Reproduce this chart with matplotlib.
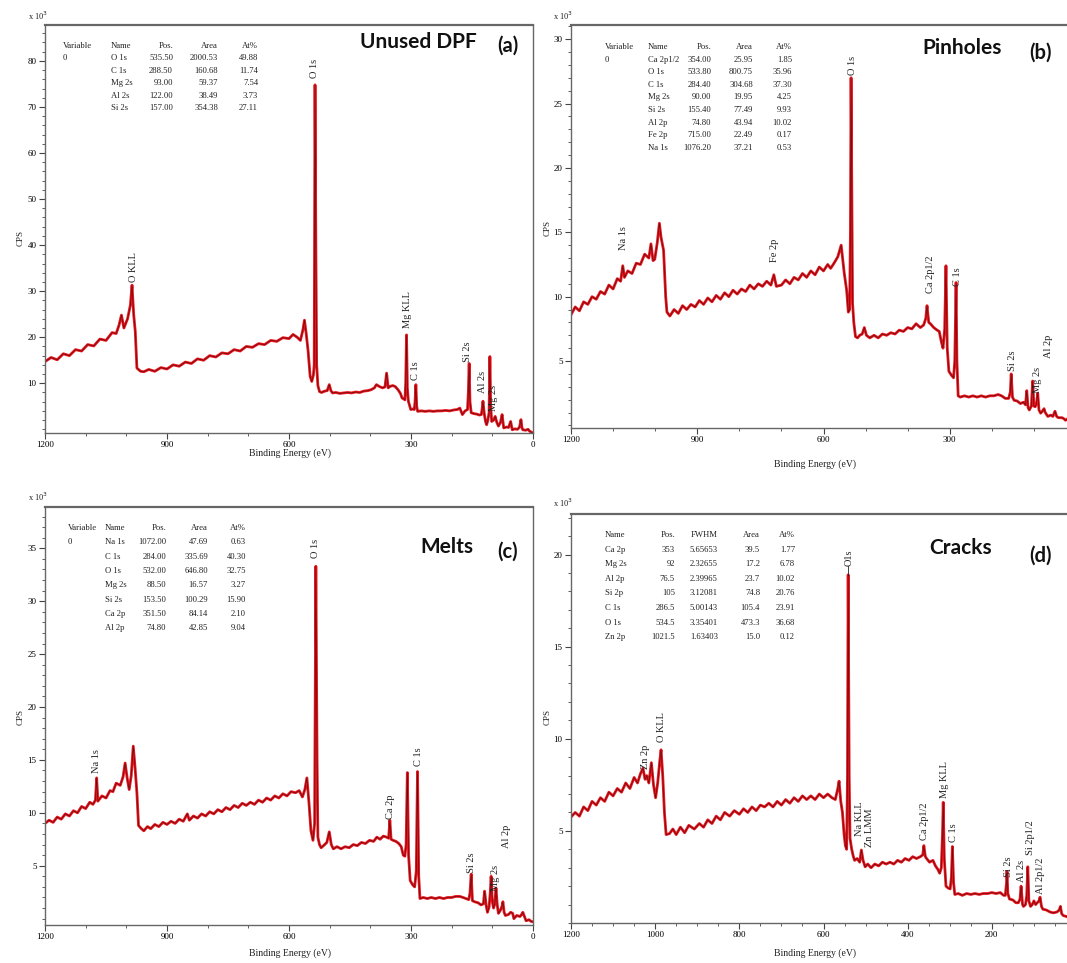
import matplotlib
matplotlib.use("Agg")
import matplotlib.pyplot as plt
from matplotlib.ticker import MultipleLocator

W, H = 1067, 963
SERIF = "Liberation Serif"
TITLE_FONT = "Lato"

# ---------------- panel (a) : Unused DPF ----------------
be_a = [1200, 1185, 1170, 1155, 1140, 1125, 1110, 1095, 1080, 1065, 1050, 1035, 1025, 1018,
        1012, 1006, 997, 990, 986, 982, 978, 974, 965, 957, 945, 930, 915, 900, 885, 870,
        855, 840, 825, 810, 795, 780, 765, 750, 735, 720, 705, 690, 675, 660, 645, 630,
        615, 600, 590, 580, 572, 566, 562, 558, 553, 548, 544, 540, 538, 536, 534, 532,
        529, 525, 520, 512, 506, 501, 497, 493, 485, 475, 466, 456, 446, 436, 426, 416,
        406, 398, 390, 385, 378, 370, 364, 360, 356, 352, 345, 339, 332, 326, 322, 318,
        315, 313, 311, 309, 306.5, 303, 300.6, 296, 292, 290, 288, 286, 283.7, 275, 265,
        255, 245, 235, 225, 215, 205, 195, 186, 180, 173.6, 167, 161, 159, 157, 155, 152,
        145, 138, 132, 127, 125, 123, 120, 117, 114, 111, 108, 106, 104, 101.6, 97, 93,
        89, 85, 80, 76, 72, 65, 60, 55, 51, 45, 38, 33, 29.6, 27, 25, 18, 12, 8.5, 4, 0]
cps_a = [14.7, 15.6, 15.1, 16.4, 16.0, 17.3, 17.0, 18.4, 18.1, 19.6, 19.3, 21.0, 20.8, 22.6,
         24.8, 22.0, 24.0, 27.0, 31.3, 25.0, 21.2, 13.3, 12.6, 12.5, 13.0, 12.6, 13.4, 13.1,
         14.0, 13.7, 14.6, 14.3, 15.3, 15.0, 16.0, 15.7, 16.6, 16.4, 17.3, 17.0, 18.0, 17.8,
         18.6, 18.4, 19.3, 19.1, 19.9, 19.7, 20.6, 20.0, 19.3, 21.5, 23.7, 21.0, 17.0, 11.5,
         10.4, 11.8, 14.0, 74.8, 40.0, 14.0, 9.5, 8.2, 8.0, 8.3, 8.4, 9.7, 8.4, 7.9, 8.0,
         7.8, 7.9, 8.0, 7.9, 8.1, 8.0, 8.3, 8.4, 8.6, 9.0, 9.7, 9.3, 9.0, 9.2, 12.2, 9.0,
         9.3, 9.5, 9.3, 8.6, 7.8, 6.8, 6.6, 6.4, 10.0, 20.5, 9.0, 6.1, 5.0, 4.3, 4.4, 4.3,
         6.0, 9.7, 5.0, 3.9, 4.0, 3.9, 4.0, 3.9, 4.0, 4.0, 4.1, 4.0, 4.2, 4.3, 4.6, 3.2,
         4.0, 4.3, 8.0, 14.3, 6.0, 3.6, 3.4, 3.3, 3.1, 3.2, 4.5, 6.1, 3.5, 1.8, 1.0, 2.0,
         3.6, 15.8, 5.0, 1.7, 2.0, 2.8, 1.5, 0.7, 1.5, 3.2, 0.3, 0.5, 0.4, 1.7, -0.1, 0.1,
         0.0, 0.5, 2.1, 0.3, -0.1, -0.2, 0.0, -0.4, -0.6, -0.8]
labels_a = ["O KLL", "O 1s", "Mg KLL", "C 1s", "Si 2s", "Al 2s", "Mg 2s"]
label_x_a = [982, 537, 309, 288, 161, 123, 96]
label_y_a = [32.0, 76.3, 21.9, 10.7, 14.7, 7.9, 3.9]
yticks_a = [10, 20, 30, 40, 50, 60, 70, 80]
table_head_a = ["Variable", "Name", "Pos.", "Area", "At%"]
table_a = [["0", "O 1s", "535.50", "2000.53", "49.88"],
           ["", "C 1s", "288.50", "160.68", "11.74"],
           ["", "Mg 2s", "93.00", "59.37", "7.54"],
           ["", "Al 2s", "122.00", "38.49", "3.73"],
           ["", "Si 2s", "157.00", "354.38", "27.11"]]

# ---------------- panel (b) : Pinholes ----------------
be_b = [1200, 1190, 1180, 1170, 1160, 1150, 1140, 1130, 1120, 1110, 1100, 1090, 1082, 1077,
        1073, 1065, 1055, 1045, 1035, 1025, 1015, 1010, 1005, 1001, 995, 990, 986, 980, 975,
        972, 965, 955, 945, 935, 925, 915, 905, 895, 885, 875, 865, 855, 845, 835, 825, 815,
        805, 795, 785, 775, 765, 755, 745, 735, 725, 718, 712, 700, 690, 680, 670, 660, 650,
        640, 630, 620, 610, 600, 590, 583, 575, 566, 558, 551, 545, 541, 538, 536, 534.5,
        533, 531, 528, 524, 519, 514, 508, 503, 498, 490, 480, 470, 460, 450, 440, 430, 420,
        410, 400, 390, 380, 370, 362, 357, 354, 350, 346, 338, 330, 325, 320, 316, 312, 309,
        306, 302, 296, 291, 288, 285, 283, 280, 275, 265, 255, 245, 235, 225, 215, 205, 195,
        185, 177, 168, 160, 156, 154, 151, 147, 140, 132, 125, 120, 117, 114, 111, 106, 103,
        100, 97, 94, 91, 88, 84, 80, 76, 73, 67, 60, 55, 50, 46, 42, 33, 28, 25, 20, 17, 14,
        8, 2, 0]
cps_b = [8.6, 9.2, 8.9, 9.6, 9.4, 10.0, 9.8, 10.4, 10.2, 10.9, 10.6, 11.4, 11.2, 12.4, 11.5,
         12.0, 11.8, 12.6, 12.5, 13.3, 13.0, 14.1, 12.8, 12.9, 14.2, 15.7, 14.6, 13.6, 10.0,
         8.8, 8.5, 9.0, 8.7, 9.3, 9.0, 9.4, 9.2, 9.7, 9.4, 9.9, 9.6, 10.1, 9.8, 10.3, 10.0,
         10.5, 10.2, 10.6, 10.4, 10.9, 10.6, 11.0, 10.8, 11.2, 10.9, 11.7, 10.8, 10.9, 11.3,
         11.0, 11.5, 11.3, 11.8, 11.5, 12.0, 11.7, 12.3, 12.0, 12.5, 12.2, 12.6, 13.1, 14.0,
         11.9, 10.5, 8.8, 9.0, 15.0, 27.0, 20.0, 9.5, 8.0, 6.9, 6.8, 7.0, 7.1, 7.6, 7.0, 6.8,
         7.0, 6.8, 7.1, 7.0, 7.2, 7.1, 7.4, 7.3, 7.6, 7.5, 7.9, 7.6, 7.8, 8.3, 9.3, 8.0, 7.9,
         7.6, 7.4, 7.3, 6.5, 6.0, 7.5, 12.4, 6.0, 4.2, 3.9, 3.7, 5.0, 11.1, 5.0, 2.3, 2.2,
         2.3, 2.2, 2.3, 2.2, 2.3, 2.2, 2.3, 2.3, 2.4, 2.3, 2.1, 2.1, 2.6, 4.0, 2.2, 1.95, 1.9,
         1.7, 1.8, 1.6, 2.7, 1.4, 1.2, 1.5, 3.45, 1.5, 1.45, 1.7, 2.5, 1.2, 0.95, 1.1, 1.3,
         1.0, 0.7, 0.8, 0.7, 1.1, 0.7, 0.6, 0.6, 0.5, 0.4, 0.5, 0.7, 0.3, 0.2, 0.05, 0.0]
labels_b = ["Na 1s", "Fe 2p", "O 1s", "Ca 2p1/2", "C 1s", "Si 2s", "Al 2p", "Mg 2s"]
label_x_b = [1075, 716, 532, 346, 281, 152, 66, 91]
label_y_b = [13.6, 12.7, 27.2, 10.3, 10.8, 4.2, 5.25, 2.5]
yticks_b = [5, 10, 15, 20, 25, 30]
table_head_b = ["Variable", "Name", "Pos.", "Area", "At%"]
table_b = [["0", "Ca 2p1/2", "354.00", "25.95", "1.85"],
           ["", "O 1s", "533.80", "800.75", "35.96"],
           ["", "C 1s", "284.40", "304.68", "37.30"],
           ["", "Mg 2s", "90.00", "19.95", "4.25"],
           ["", "Si 2s", "155.40", "77.49", "9.93"],
           ["", "Al 2p", "74.80", "43.94", "10.02"],
           ["", "Fe 2p", "715.00", "22.49", "0.17"],
           ["", "Na 1s", "1076.20", "37.21", "0.53"]]

# ---------------- panel (c) : Melts ----------------
be_c = [1200, 1190, 1180, 1170, 1160, 1150, 1140, 1130, 1120, 1110, 1100, 1090, 1082, 1076,
        1073, 1070, 1060, 1050, 1040, 1033, 1025, 1015, 1008, 1003, 998, 993, 988, 983, 979,
        974, 970, 963, 957, 948, 940, 930, 920, 910, 900, 890, 880, 870, 860, 850, 845, 835,
        825, 815, 805, 795, 785, 775, 765, 755, 745, 735, 725, 715, 705, 695, 685, 675, 665,
        655, 645, 635, 625, 615, 605, 595, 584, 575, 567, 561, 556, 551, 546, 541, 537, 534,
        531, 529, 525, 521, 515, 507, 501, 496, 491, 482, 472, 462, 452, 442, 432, 422, 412,
        402, 392, 384, 376, 368, 360, 355, 352, 349, 344, 337, 330, 324, 319, 315, 312, 309,
        306, 302, 296, 291, 287, 284, 281, 278, 270, 260, 250, 240, 230, 220, 210, 200, 190,
        180, 172, 165, 158, 155, 152, 149, 144, 135, 128, 122, 119, 115, 112, 108, 105, 103,
        100, 97, 94, 91, 88, 85, 80, 76, 74, 71, 68, 60, 55, 50, 47, 40, 32, 28, 25, 21, 17,
        10, 5, 0]
cps_c = [9.0, 9.3, 9.1, 9.6, 9.4, 9.9, 9.7, 10.2, 10.0, 10.6, 10.4, 11.0, 10.8, 11.2, 13.3,
         11.1, 11.6, 11.4, 12.1, 12.0, 12.8, 12.6, 13.4, 14.7, 13.3, 12.2, 13.5, 16.3, 14.5,
         11.9, 8.8, 8.5, 8.3, 8.7, 8.5, 8.9, 8.7, 9.1, 8.9, 9.2, 9.0, 9.4, 9.2, 9.9, 9.3, 9.7,
         9.5, 9.9, 9.7, 10.1, 9.9, 10.3, 10.1, 10.5, 10.3, 10.7, 10.5, 10.9, 10.7, 11.0, 10.8,
         11.2, 11.0, 11.4, 11.2, 11.6, 11.4, 11.8, 11.6, 12.0, 11.9, 12.1, 11.5, 12.2, 13.3,
         11.0, 8.3, 7.4, 9.0, 33.3, 15.0, 7.7, 7.0, 6.7, 6.9, 7.2, 8.2, 7.0, 6.6, 6.8, 6.6,
         6.8, 6.7, 7.0, 6.9, 7.2, 7.1, 7.4, 7.3, 7.7, 7.5, 7.8, 7.7, 7.6, 9.3, 7.5, 7.4, 7.3,
         7.1, 6.8, 6.0, 5.9, 7.0, 13.8, 6.0, 3.6, 3.2, 3.0, 4.5, 13.9, 4.0, 1.9, 2.0, 1.9, 2.0,
         1.9, 2.0, 1.9, 2.0, 2.0, 2.1, 2.1, 2.0, 1.9, 1.8, 2.4, 4.2, 1.7, 1.6, 1.5, 1.3, 1.4,
         2.6, 1.2, 0.6, 1.1, 2.5, 4.0, 1.6, 1.0, 1.4, 2.9, 1.3, 0.5, 0.8, 1.2, 1.6, 0.6, 0.3,
         0.4, 0.6, 0.5, 0.0, 0.3, 0.2, 0.4, 0.6, 0.2, -0.2, -0.1, -0.25, -0.3]
labels_c = ["Na 1s", "O 1s", "Ca 2p", "C 1s", "Si 2s", "Al 2p", "Mg 2s"]
label_x_c = [1073, 535, 351, 281, 152, 64, 93]
label_y_c = [13.8, 34.1, 9.45, 14.4, 4.3, 6.7, 2.6]
yticks_c = [5, 10, 15, 20, 25, 30, 35]
table_head_c = ["Variable", "Name", "Pos.", "Area", "At%"]
table_c = [["0", "Na 1s", "1072.00", "47.69", "0.63"],
           ["", "C 1s", "284.00", "335.69", "40.30"],
           ["", "O 1s", "532.00", "646.80", "32.75"],
           ["", "Mg 2s", "88.50", "16.57", "3.27"],
           ["", "Si 2s", "153.50", "100.29", "15.90"],
           ["", "Ca 2p", "351.50", "84.14", "2.10"],
           ["", "Al 2p", "74.80", "42.85", "9.04"]]

# ---------------- panel (d) : Cracks ----------------
be_d = [1200, 1190, 1180, 1170, 1160, 1150, 1140, 1130, 1120, 1110, 1100, 1090, 1080, 1070,
        1060, 1050, 1042, 1035, 1029, 1024, 1020, 1015, 1009, 1004, 999, 994, 989, 986, 982,
        978, 974, 966, 958, 950, 940, 930, 920, 907, 895, 885, 875, 865, 855, 845, 835, 823,
        812, 800, 790, 780, 770, 760, 750, 740, 730, 720, 710, 700, 690, 680, 670, 660, 650,
        640, 630, 620, 610, 600, 590, 580, 572, 566, 563, 559, 555, 551, 548, 545, 543, 541.4,
        539, 537, 533, 529, 526, 520, 514, 510, 506, 501, 495, 487, 478, 469, 460, 451, 442,
        433, 424, 415, 406, 397, 388, 379, 370, 364, 361.5, 358, 355, 348, 340, 334, 328, 324,
        320, 317, 315.5, 313, 309, 304, 299, 296, 293.7, 291, 288, 280, 270, 260, 250, 240,
        230, 220, 210, 200, 190, 180, 172, 168, 165, 164, 162, 158, 150, 143, 137, 133, 130.5,
        127, 124.7, 120, 117, 114.6, 112, 108, 104, 100, 96, 92, 88, 85.4, 82, 78.7, 70, 62,
        54, 45, 40, 37, 34, 30, 22, 13, 5, 0]
cps_d = [5.75, 6.0, 5.8, 6.3, 6.1, 6.6, 6.4, 6.8, 6.6, 7.1, 6.9, 7.3, 7.1, 7.6, 7.3, 7.9, 7.6,
         8.1, 8.4, 7.8, 8.0, 7.6, 8.7, 7.5, 6.8, 7.6, 8.8, 9.4, 8.0, 6.0, 4.8, 4.85, 5.1, 4.8,
         5.2, 4.9, 5.3, 5.1, 5.4, 5.2, 5.6, 5.4, 5.8, 5.6, 6.0, 5.8, 6.1, 5.9, 6.2, 6.0, 6.3,
         6.1, 6.4, 6.3, 6.5, 6.3, 6.6, 6.4, 6.7, 6.5, 6.8, 6.6, 6.9, 6.7, 6.9, 6.7, 7.0, 6.8,
         7.0, 6.8, 6.7, 7.3, 7.7, 6.6, 6.0, 4.8, 4.2, 4.0, 8.0, 18.9, 8.0, 4.6, 4.0, 3.6, 3.4,
         3.5, 3.3, 3.96, 3.4, 3.05, 3.2, 3.0, 3.2, 3.1, 3.3, 3.2, 3.3, 3.2, 3.4, 3.3, 3.5, 3.4,
         3.6, 3.5, 3.6, 3.7, 4.2, 3.6, 3.5, 3.3, 3.4, 3.1, 2.9, 2.7, 3.0, 5.0, 6.55, 3.5, 2.0,
         1.9, 1.85, 2.5, 4.15, 2.2, 1.55, 1.6, 1.5, 1.6, 1.55, 1.6, 1.55, 1.6, 1.6, 1.65, 1.6,
         1.65, 1.5, 1.5, 2.2, 2.8, 1.6, 1.3, 1.25, 1.1, 1.1, 1.3, 2.0, 1.0, 0.9, 1.0, 1.5, 3.05,
         1.2, 0.9, 1.0, 1.2, 1.0, 1.1, 1.2, 1.4, 0.9, 0.75, 0.7, 0.6, 0.55, 0.6, 0.7, 0.9, 0.5,
         0.4, 0.35, 0.2, 0.15, 0.1]
labels_d = ["Zn 2p", "O KLL", "O1s", "Na KLL", "Zn LMM", "Ca 2p1/2", "Mg KLL", "C 1s",
            "Si 2s", "Al 2s", "Si 2p1/2", "Al 2p1/2"]
label_x_d = [1022, 984, 539, 514, 490, 359, 313, 290, 161, 129, 108, 85]
label_y_d = [8.35, 9.8, 19.4, 4.7, 4.1, 4.5, 6.8, 4.4, 2.5, 2.25, 3.7, 1.6]
yticks_d = [5, 10, 15, 20]
table_head_d = ["Name", "Pos.", "FWHM", "Area", "At%"]
table_d = [["Ca 2p", "353", "5.65653", "39.5", "1.77"],
           ["Mg 2s", "92", "2.32655", "17.2", "6.78"],
           ["Al 2p", "76.5", "2.39965", "23.7", "10.02"],
           ["Si 2p", "105", "3.12081", "74.8", "20.76"],
           ["C 1s", "286.5", "5.00143", "105.4", "23.91"],
           ["O 1s", "534.5", "3.35401", "473.3", "36.68"],
           ["Zn 2p", "1021.5", "1.63403", "15.0", "0.12"]]

titles = ["Unused DPF", "Pinholes", "Melts", "Cracks"]
tags = ["(a)", "(b)", "(c)", "(d)"]

fig = plt.figure(figsize=(W / 100, H / 100), dpi=100)


def px_axes(left, top, right, bottom):
    return fig.add_axes([left / W, 1 - bottom / H, (right - left) / W, (bottom - top) / H])


def px_text(x, y, s, **kw):
    fig.text(x / W, 1 - y / H, s, **kw)


def draw_panel(ax, be, cps, ylim, yticks, yminor, xticks, xminor,
               labels, lx, ly, label_size):
    # thick red trace with the thin dark trace drawn over it
    ax.plot(be, cps, color="#e8151d", lw=2.0, solid_joinstyle="round")
    ax.plot(be, cps, color="#2a0606", lw=0.45, alpha=0.75)
    ax.set_xlim(1200, 0)
    ax.set_ylim(*ylim)
    ax.set_xticks(xticks)
    ax.xaxis.set_minor_locator(MultipleLocator(xminor))
    ax.set_yticks(yticks)
    ax.yaxis.set_minor_locator(MultipleLocator(yminor))
    ax.tick_params(which="major", direction="out", length=4, width=0.8,
                   labelsize=6.5, color="#444444", pad=2)
    ax.tick_params(which="minor", direction="out", length=2, width=0.6, color="#444444")
    for lab in ax.get_xticklabels() + ax.get_yticklabels():
        lab.set_fontfamily(SERIF)
    for name, sp in ax.spines.items():
        sp.set_color("#666666")
        sp.set_linewidth(1.6 if name == "top" else 1.0)
    for s, x, y in zip(labels, lx, ly):
        ax.text(x, y, s, rotation=90, ha="center", va="bottom",
                fontsize=label_size, family=SERIF, color="#222222")


def draw_table(x0, y0, col_x, col_align, head, rows, dy, size=6.2):
    for j, h in enumerate(head):
        px_text(x0 + col_x[j], y0, h, ha=col_align[j], va="center",
                fontsize=size, family=SERIF, color="#222222")
    for i, row in enumerate(rows):
        for j, v in enumerate(row):
            px_text(x0 + col_x[j], y0 + dy * (i + 1), v, ha=col_align[j], va="center",
                    fontsize=size, family=SERIF, color="#222222")


# axes boxes in pixel coordinates (left, top, right, bottom)
ax_a = px_axes(45, 25, 533, 433)
ax_b = px_axes(571, 25, 1076, 428)
ax_c = px_axes(45, 507, 533, 925)
ax_d = px_axes(571, 514, 1076, 923)

draw_panel(ax_a, be_a, cps_a, (-0.8, 87.8), yticks_a, 2, [1200, 900, 600, 300, 0], 100,
           labels_a, label_x_a, label_y_a, 7.5)
draw_panel(ax_b, be_b, cps_b, (-0.2, 31.1), yticks_b, 1, [1200, 900, 600, 300], 100,
           labels_b, label_x_b, label_y_b, 7.5)
draw_panel(ax_c, be_c, cps_c, (-0.6, 38.9), yticks_c, 1, [1200, 900, 600, 300, 0], 100,
           labels_c, label_x_c, label_y_c, 7.5)
draw_panel(ax_d, be_d, cps_d, (0.0, 22.2), yticks_d, 1, [1200, 1000, 800, 600, 400, 200], 50,
           labels_d, label_x_d, label_y_d, 7.5)
# leader line from the O1s label down to the peak in (d)
ax_d.plot([541.4, 541.4], [18.9, 19.4], color="#222222", lw=0.6)

for ax, (cx, cy) in zip([ax_a, ax_b, ax_c, ax_d],
                        [(290, 453), (815, 464), (290, 953), (815, 953)]):
    px_text(cx, cy, "Binding Energy (eV)", ha="center", va="center",
            fontsize=7, family=SERIF, color="#222222")

for (x, y) in [(21, 238), (548, 228), (21, 717), (548, 717)]:
    px_text(x, y, "CPS", rotation=90, ha="center", va="center",
            fontsize=6.5, family=SERIF, color="#222222")

for (x, y) in [(38, 16), (563, 16), (38, 497), (563, 503)]:
    px_text(x, y, r"x 10$^3$", ha="center", va="center", fontsize=6,
            family=SERIF, color="#222222")

# titles
title_pos = [(418, 42), (962, 48), (447, 547), (961, 548)]
tag_pos = [(508, 46), (1040, 53), (508, 552), (1040, 556)]
for t, g, tp, gp in zip(titles, tags, title_pos, tag_pos):
    px_text(tp[0], tp[1], t, ha="center", va="center", fontsize=15,
            fontweight="bold", family=TITLE_FONT, color="#111111")
    px_text(gp[0], gp[1], g, ha="center", va="center", fontsize=14.5,
            fontweight="bold", family=TITLE_FONT, color="#111111")

# peak tables
var_align = ["left", "left", "right", "right", "right"]
draw_table(63, 46, [0, 48, 110, 155, 195], var_align, table_head_a, table_a, 12.4)
draw_table(605, 47, [0, 43, 106, 148, 187], var_align, table_head_b, table_b, 12.6)
draw_table(68, 528, [0, 37, 98, 140, 178], var_align, table_head_c, table_c, 14.3)
draw_table(605, 535, [0, 70, 113, 155, 190], ["left", "right", "right", "right", "right"],
           table_head_d, table_d, 14.6)

fig.savefig("out.png", dpi=100)
